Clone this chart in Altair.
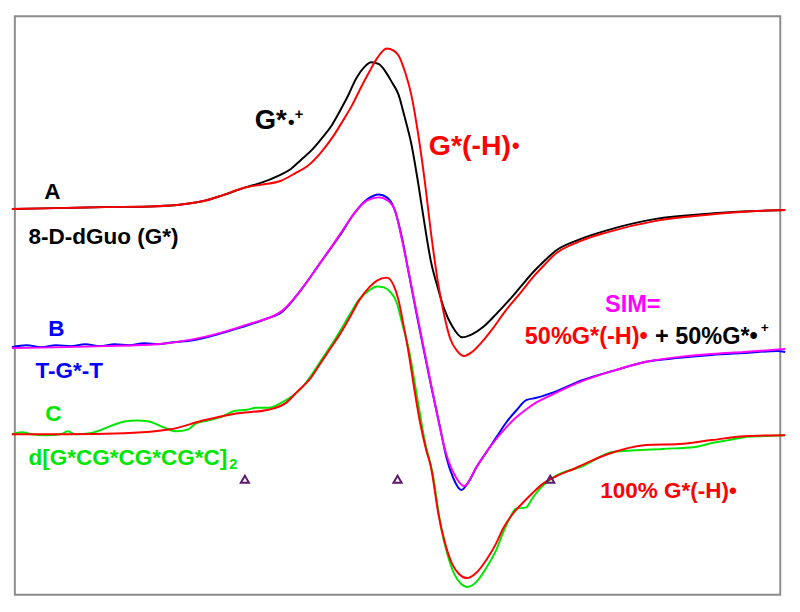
import altair as alt
import pandas as pd

# Field position (horizontal units) and signal (vertical units, larger = lower on page)
A_exp_x = [5, 50, 100, 153, 180, 204, 220, 243, 260, 277, 290, 300, 312, 323, 332, 340, 348, 357, 365, 372, 380, 387, 393, 400, 406, 413, 420, 427, 433, 440, 447, 455, 465, 475, 487, 500, 513, 525, 537, 550, 560, 585, 612, 663, 714, 765, 795]
A_exp_y = [207, 206, 205, 204, 202, 198, 193, 185, 180, 173, 166, 157, 146, 133, 121, 107, 92, 73, 62, 57, 59, 67, 77, 90, 112, 140, 180, 225, 260, 287, 310, 327, 338, 335, 327, 314, 300, 286, 272, 259, 250, 238, 229, 217, 212, 209, 208]

A_sim_x = [5, 50, 100, 153, 180, 204, 220, 243, 260, 280, 295, 307, 320, 333, 343, 353, 362, 370, 378, 388, 395, 400, 407, 413, 420, 427, 433, 440, 447, 453, 460, 467, 475, 485, 497, 510, 525, 537, 550, 560, 585, 612, 663, 714, 765, 795]
A_sim_y = [207, 206, 205, 204, 202, 198, 193, 185, 182, 178, 170, 163, 150, 133, 117, 100, 82, 67, 53, 43, 45, 50, 68, 90, 130, 180, 230, 280, 317, 340, 352, 357, 353, 343, 328, 310, 292, 277, 263, 253, 240, 231, 219, 213, 209, 208]

B_exp_x = [5, 20, 35, 50, 65, 80, 95, 110, 125, 140, 155, 170, 190, 204, 225, 245, 265, 281, 300, 320, 340, 355, 368, 380, 388, 395, 403, 410, 418, 426, 434, 442, 449, 456, 464, 472, 480, 490, 500, 510, 520, 531, 540, 556, 587, 620, 653, 687, 720, 753, 787, 795]
B_exp_y = [348, 346, 348, 346, 347, 345, 347, 345, 346, 344, 345, 343, 341, 338, 332, 326, 319, 312, 290, 262, 234, 211, 197, 192, 195, 205, 234, 270, 312, 352, 391, 428, 461, 482, 494, 485, 470, 455, 440, 425, 413, 402, 400, 395, 382, 372, 363, 359, 356, 354, 352, 353]

B_sim_x = [5, 100, 153, 204, 245, 281, 300, 320, 340, 355, 368, 380, 390, 397, 403, 418, 434, 449, 458, 467, 480, 495, 510, 520, 530, 540, 556, 587, 620, 653, 687, 720, 753, 795]
B_sim_y = [349, 347, 345, 337, 325, 311, 290, 262, 233, 211, 198, 195, 199, 210, 236, 310, 390, 458, 480, 490, 470, 448, 430, 420, 412, 405, 397, 383, 372, 363, 358, 355, 353, 350]

C_exp_x = [5, 15, 25, 40, 55, 62, 70, 85, 95, 105, 120, 133, 145, 160, 173, 185, 193, 205, 220, 233, 245, 255, 267, 280, 290, 300, 310, 320, 330, 340, 350, 360, 370, 378, 385, 392, 398, 404, 410, 420, 427, 435, 443, 450, 457, 464, 470, 476, 482, 490, 500, 507, 514, 520, 530, 537, 547, 560, 587, 620, 670, 703, 720, 737, 753, 770, 795]
C_exp_y = [437, 435, 437, 438, 437, 434, 437, 436, 433, 429, 424, 423, 424, 430, 434, 432, 426, 423, 419, 413, 412, 410, 410, 405, 399, 391, 378, 363, 348, 332, 315, 299, 290, 286, 287, 292, 302, 325, 348, 405, 445, 478, 530, 560, 580, 590, 593, 591, 585, 573, 555, 537, 522, 513, 512, 502, 490, 480, 470, 455, 452, 450, 446, 443, 440, 439, 438]

C_sim_x = [5, 60, 120, 167, 200, 233, 267, 285, 297, 310, 320, 330, 340, 350, 360, 370, 378, 388, 395, 400, 405, 410, 416, 422, 428, 433, 441, 448, 455, 462, 470, 480, 490, 500, 507, 517, 527, 537, 547, 561, 580, 612, 653, 687, 720, 753, 795]
C_sim_y = [437, 437, 436, 432, 423, 416, 412, 405, 393, 380, 365, 350, 335, 318, 300, 287, 280, 277, 285, 300, 325, 352, 390, 425, 452, 470, 520, 550, 570, 580, 584, 578, 565, 548, 533, 518, 507, 497, 488, 480, 472, 458, 448, 447, 443, 439, 438]

marker_x = [243, 399, 555]
marker_y = [483, 483, 483]

label_text = ["A", "8-D-dGuo (G*)", "B", "T-G*-T", "C", "d[G*CG*CG*CG*C]", "2",
              "G*", "•", "+", "G*(-H)", "•", "SIM=", "50%G*(-H)•", "+ 50%G*•", "+", "100% G*(-H)•"]
label_x = [38, 22, 42, 29, 39, 22, 227, 253, 287, 294, 431, 516, 611, 529, 662, 770, 606]
label_y = [197, 243, 337, 380, 423, 468, 473, 125, 124, 115, 152, 150, 312, 345, 345, 333, 502]
label_size = [23, 23, 23, 23, 23, 23, 15, 28, 19, 15, 29, 22, 24, 24, 24, 14, 23]
label_color = ["#000000", "#000000", "#0000ff", "#0000ff", "#00e600", "#00e600", "#00e600",
               "#000000", "#000000", "#000000", "#ff0000", "#ff0000", "#ff00ff", "#ff0000",
               "#000000", "#000000", "#ff0000"]

xs = alt.Scale(domain=[8, 790])
ys = alt.Scale(domain=[10, 601], reverse=True)


def curve(xv, yv, color):
    df = pd.DataFrame({"field": xv, "signal": yv, "i": range(len(xv))})
    return alt.Chart(df).mark_line(color=color, strokeWidth=2, clip=False,
                                   interpolate="monotone").encode(
        x=alt.X("field:Q", scale=xs, axis=None),
        y=alt.Y("signal:Q", scale=ys, axis=None),
        order="i:Q",
    )


layers = [
    curve(A_exp_x, A_exp_y, "#000000"),
    curve(A_sim_x, A_sim_y, "#ff0000"),
    curve(B_exp_x, B_exp_y, "#0000ff"),
    curve(B_sim_x, B_sim_y, "#ff00ff"),
    curve(C_exp_x, C_exp_y, "#00e600"),
    curve(C_sim_x, C_sim_y, "#ff0000"),
]

markers = alt.Chart(pd.DataFrame({"field": marker_x, "signal": marker_y})).mark_point(
    shape="triangle-up", filled=False, color="#5c1a6e", strokeWidth=2, size=70, opacity=1
).encode(x=alt.X("field:Q", scale=xs, axis=None), y=alt.Y("signal:Q", scale=ys, axis=None))

labels_df = pd.DataFrame({"field": label_x, "signal": label_y, "text": label_text,
                          "fs": label_size, "col": label_color})
labels = alt.Chart(labels_df).mark_text(
    align="left", baseline="alphabetic", font="Liberation Sans", fontWeight="bold"
).encode(
    x=alt.X("field:Q", scale=xs, axis=None),
    y=alt.Y("signal:Q", scale=ys, axis=None),
    text="text:N",
    size=alt.Size("fs:Q", scale=None, legend=None),
    color=alt.Color("col:N", scale=None, legend=None),
)

chart = alt.layer(*layers, markers, labels).properties(
    width=782, height=591,
    padding={"left": 0, "top": 2, "right": 3, "bottom": 3},
    background="white",
).configure_view(stroke="#8c8c8c", strokeWidth=2)

chart.save("out.html", embed_options={"renderer": "svg", "actions": False})
